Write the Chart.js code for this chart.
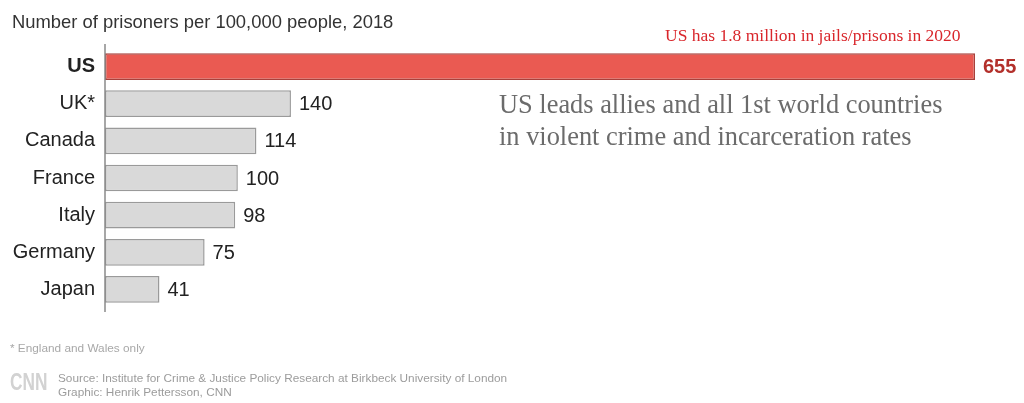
<!DOCTYPE html>
<html>
<head>
<meta charset="utf-8">
<script src="https://cdn.jsdelivr.net/npm/chart.js@4"></script>
<style>
  html, body { margin: 0; padding: 0; background: #fff; }
  #wrap { position: relative; width: 1024px; height: 403px; }
</style>
</head>
<body>
<div id="wrap"><canvas id="prisonChart" width="1024" height="403"></canvas></div>
<script>
// ── DATA ──
const countries = ['US', 'UK*', 'Canada', 'France', 'Italy', 'Germany', 'Japan'];
const prisonersPer100k = [655, 140, 114, 100, 98, 75, 41];

const titleText = 'Number of prisoners per 100,000 people, 2018';
const noteRed = 'US has 1.8 million in jails/prisons in 2020';
const noteLines = ['US leads allies and all 1st world countries', 'in violent crime and incarceration rates'];
const footnote = '* England and Wales only';
const sourceLines = ['Source: Institute for Crime & Justice Policy Research at Birkbeck University of London',
                     'Graphic: Henrik Pettersson, CNN'];

const SANS = '"Liberation Sans", Arial, sans-serif';
const SERIF = '"Liberation Serif", "Times New Roman", serif';

// ── TEXT + AXIS LINE + VALUE LABELS ──
const decorPlugin = {
    id: 'decor',
    afterDatasetsDraw(chart) {
        const ctx = chart.ctx;
        const area = chart.chartArea;
        ctx.save();

        // vertical axis line
        ctx.strokeStyle = '#8a8a8a';
        ctx.lineWidth = 1.5;
        ctx.beginPath();
        ctx.moveTo(area.left, area.top - 4);
        ctx.lineTo(area.left, area.bottom + 4);
        ctx.stroke();

        // value labels at bar ends
        const meta = chart.getDatasetMeta(0);
        ctx.textBaseline = 'middle';
        ctx.textAlign = 'left';
        meta.data.forEach((bar, i) => {
            const isUS = i === 0;
            ctx.font = (isUS ? 'bold ' : '') + '20px ' + SANS;
            ctx.fillStyle = isUS ? '#b3302b' : '#222';
            ctx.fillText(String(prisonersPer100k[i]), bar.x + 8, bar.y + 1);
        });

        // title
        ctx.textBaseline = 'alphabetic';
        ctx.font = '18.4px ' + SANS;
        ctx.fillStyle = '#333';
        ctx.fillText(titleText, 12, 28);

        // red note
        ctx.font = '17.5px ' + SERIF;
        ctx.fillStyle = '#d9262b';
        ctx.fillText(noteRed, 665, 41);

        // gray annotation
        ctx.font = '26.4px ' + SERIF;
        ctx.fillStyle = '#6b6b6b';
        ctx.fillText(noteLines[0], 499, 113);
        ctx.fillText(noteLines[1], 499, 145);

        // footnote + source
        ctx.font = '11.8px ' + SANS;
        ctx.fillStyle = '#a8a8a8';
        ctx.fillText(footnote, 10, 352);
        ctx.fillStyle = '#9c9c9c';
        ctx.fillText(sourceLines[0], 58, 382);
        ctx.fillText(sourceLines[1], 58, 396);

        // CNN mark (condensed)
        ctx.save();
        ctx.translate(10, 390);
        ctx.scale(0.72, 1);
        ctx.font = 'bold 24px ' + SANS;
        ctx.fillStyle = '#d2d2d2';
        ctx.fillText('CNN', 0, 0);
        ctx.restore();

        ctx.restore();
    }
};

const chart = new Chart(document.getElementById('prisonChart'), {
    type: 'bar',
    data: {
        labels: countries,
        datasets: [{
            data: prisonersPer100k,
            backgroundColor: countries.map((c, i) => i === 0 ? '#ea5a52' : '#d9d9d9'),
            borderColor: countries.map((c, i) => i === 0 ? '#a8403b' : '#9a9a9a'),
            borderWidth: 1.5,
            borderSkipped: false,
            categoryPercentage: 1,
            barPercentage: 0.72
        }]
    },
    options: {
        indexAxis: 'y',
        responsive: false,
        animation: false,
        layout: { padding: { left: 0, right: 49, top: 48, bottom: 95 } },
        plugins: { legend: { display: false }, tooltip: { enabled: false } },
        scales: {
            x: { display: false, min: 0, max: 655 },
            y: {
                afterFit(scale) { scale.width = 105; },
                grid: { display: false, drawTicks: false },
                border: { display: false },
                ticks: {
                    padding: 10,
                    color: '#222',
                    font: (c) => ({ family: SANS, size: 20, weight: c.index === 0 ? 'bold' : 'normal' })
                }
            }
        }
    },
    plugins: [decorPlugin]
});
</script>
</body>
</html>
